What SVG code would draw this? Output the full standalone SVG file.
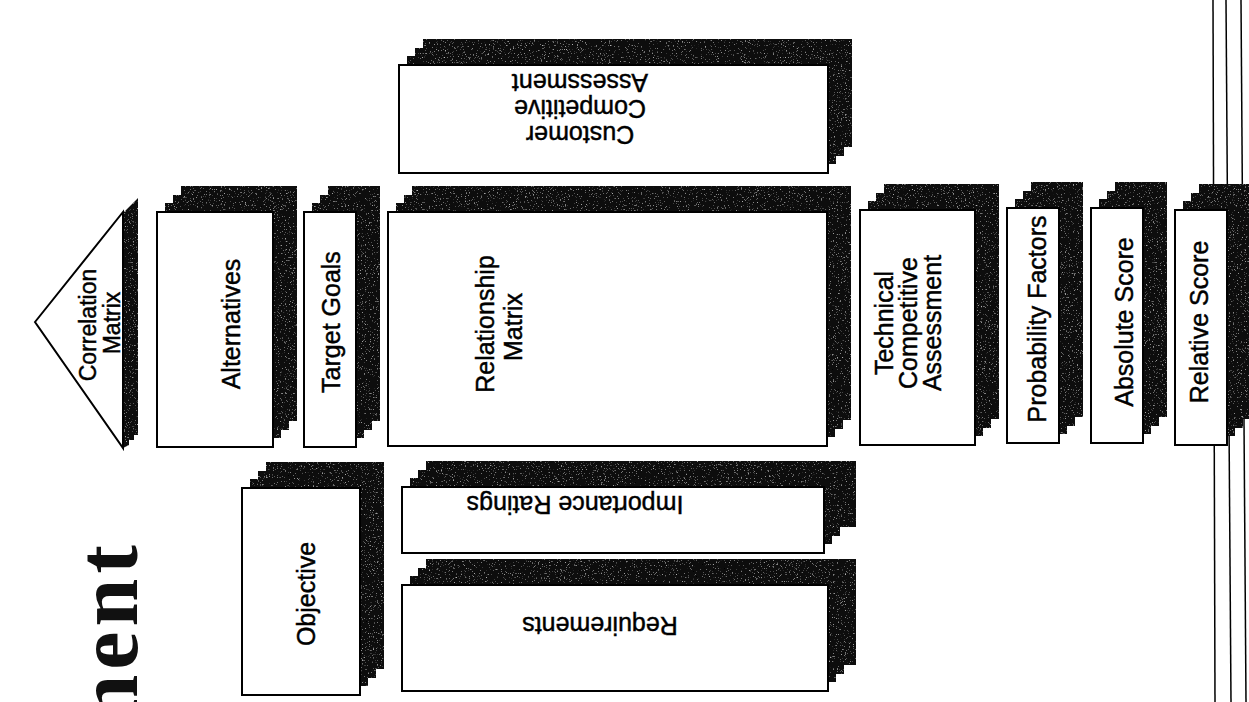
<svg xmlns="http://www.w3.org/2000/svg" width="1249" height="702" viewBox="0 0 1249 702">
<defs>
<style>
.sh{fill:#111111;}
.fr{fill:#ffffff;stroke:#000;stroke-width:2;}
.lbl{font-family:"Liberation Sans",Arial,sans-serif;font-size:25px;fill:#000;stroke:#000;stroke-width:0.45px;text-anchor:middle;}
.sm{font-size:23px;}
.ttl{font-family:"Liberation Serif","Times New Roman",serif;font-size:86px;font-weight:bold;fill:#111;letter-spacing:5px;}
.ln{stroke:#000;stroke-width:1.5;fill:none;}
</style>
<filter id="grain" x="0" y="0" width="1" height="1">
<feTurbulence type="fractalNoise" baseFrequency="0.75" numOctaves="2" seed="7" result="t"/>
<feColorMatrix in="t" type="matrix" values="0 0 0 0 0.6  0 0 0 0 0.6  0 0 0 0 0.6  3.2 0 0 0 -2.05" result="spk"/>
<feComposite in="spk" in2="SourceGraphic" operator="in" result="clip"/>
<feMerge><feMergeNode in="SourceGraphic"/><feMergeNode in="clip"/></feMerge>
</filter>
</defs>
<rect width="1249" height="702" fill="#fff"/>

<g id="frame-lines">
<line class="ln" x1="1213" y1="0" x2="1215" y2="702"/>
<line class="ln" x1="1226" y1="0" x2="1231" y2="702"/>
<line class="ln" x1="1241" y1="0" x2="1246" y2="702"/>
</g>

<g id="title">
<text class="ttl" transform="translate(137,540) rotate(-90)" text-anchor="end">ment</text>
</g>

<g id="correlation-matrix">
<polygon class="sh" filter="url(#grain)" points="123,213 138,198 138,435 134,435 134,440 129,440 129,445 123,448"/>
<polygon points="35,322 123,212 123,448" fill="#fff" stroke="#000" stroke-width="2"/>
<text class="lbl sm" transform="translate(96,325) rotate(-90)">Correlation</text>
<text class="lbl sm" transform="translate(120,323) rotate(-90)">Matrix</text>
</g>

<g id="alternatives">
<g filter="url(#grain)">
<rect class="sh" x="181" y="186" width="116" height="235"/>
<rect class="sh" x="173" y="195" width="116" height="235"/>
<rect class="sh" x="165" y="203" width="116" height="235"/>
</g>
<rect class="fr" x="157" y="212" width="116" height="235"/>
<text class="lbl" transform="translate(240,324) rotate(-90)">Alternatives</text>
</g>

<g id="target-goals">
<g filter="url(#grain)">
<rect class="sh" x="328" y="186" width="52" height="235"/>
<rect class="sh" x="320" y="195" width="52" height="235"/>
<rect class="sh" x="312" y="203" width="52" height="235"/>
</g>
<rect class="fr" x="304" y="212" width="52" height="235"/>
<text class="lbl" transform="translate(340,322) rotate(-90)">Target Goals</text>
</g>

<g id="relationship-matrix">
<g filter="url(#grain)">
<rect class="sh" x="412" y="186" width="439" height="234"/>
<rect class="sh" x="404" y="195" width="439" height="234"/>
<rect class="sh" x="396" y="203" width="439" height="234"/>
</g>
<rect class="fr" x="388" y="212" width="439" height="234"/>
<text class="lbl" transform="translate(494,324) rotate(-90)">Relationship</text>
<text class="lbl" transform="translate(522,327) rotate(-90)">Matrix</text>
</g>

<g id="customer-competitive-assessment">
<g filter="url(#grain)">
<rect class="sh" x="423" y="39" width="429" height="108"/>
<rect class="sh" x="415" y="48" width="429" height="108"/>
<rect class="sh" x="407" y="56" width="429" height="108"/>
</g>
<rect class="fr" x="399" y="65" width="429" height="108"/>
<text class="lbl" transform="translate(580,126) rotate(180)"><tspan x="0" dy="0">Customer</tspan><tspan x="0" dy="26">Competitive</tspan><tspan x="0" dy="26">Assessment</tspan></text>
</g>

<g id="technical-competitive-assessment">
<g filter="url(#grain)">
<rect class="sh" x="884" y="184" width="115" height="235"/>
<rect class="sh" x="876" y="193" width="115" height="235"/>
<rect class="sh" x="868" y="201" width="115" height="235"/>
</g>
<rect class="fr" x="860" y="210" width="115" height="235"/>
<text class="lbl" transform="translate(893,323) rotate(-90)"><tspan x="0" dy="0">Technical</tspan><tspan x="0" dy="24">Competitive</tspan><tspan x="0" dy="24">Assessment</tspan></text>
</g>

<g id="probability-factors">
<g filter="url(#grain)">
<rect class="sh" x="1031" y="182" width="52" height="235"/>
<rect class="sh" x="1023" y="191" width="52" height="235"/>
<rect class="sh" x="1015" y="199" width="52" height="235"/>
</g>
<rect class="fr" x="1007" y="208" width="52" height="235"/>
<text class="lbl" transform="translate(1046,319) rotate(-90)">Probability Factors</text>
</g>

<g id="absolute-score">
<g filter="url(#grain)">
<rect class="sh" x="1115" y="182" width="52" height="235"/>
<rect class="sh" x="1107" y="191" width="52" height="235"/>
<rect class="sh" x="1099" y="199" width="52" height="235"/>
</g>
<rect class="fr" x="1091" y="208" width="52" height="235"/>
<text class="lbl" transform="translate(1133,322) rotate(-90)">Absolute Score</text>
</g>

<g id="relative-score">
<g filter="url(#grain)">
<rect class="sh" x="1199" y="184" width="52" height="235"/>
<rect class="sh" x="1191" y="193" width="52" height="235"/>
<rect class="sh" x="1183" y="201" width="52" height="235"/>
</g>
<rect class="fr" x="1175" y="210" width="52" height="235"/>
<text class="lbl" transform="translate(1208,322) rotate(-90)">Relative Score</text>
</g>

<g id="objective">
<g filter="url(#grain)">
<rect class="sh" x="266" y="462" width="118" height="207"/>
<rect class="sh" x="258" y="471" width="118" height="207"/>
<rect class="sh" x="250" y="479" width="118" height="207"/>
</g>
<rect class="fr" x="242" y="488" width="118" height="207"/>
<text class="lbl" transform="translate(315,594) rotate(-90)">Objective</text>
</g>

<g id="importance-ratings">
<g filter="url(#grain)">
<rect class="sh" x="426" y="461" width="430" height="66"/>
<rect class="sh" x="418" y="470" width="422" height="66"/>
<rect class="sh" x="410" y="478" width="422" height="66"/>
</g>
<rect class="fr" x="402" y="487" width="422" height="66"/>
<text class="lbl" transform="translate(575,496) rotate(180)">Importance Ratings</text>
</g>

<g id="requirements">
<g filter="url(#grain)">
<rect class="sh" x="426" y="559" width="430" height="106"/>
<rect class="sh" x="418" y="568" width="426" height="106"/>
<rect class="sh" x="410" y="576" width="426" height="106"/>
</g>
<rect class="fr" x="402" y="585" width="426" height="106"/>
<text class="lbl" transform="translate(600,617) rotate(180)">Requirements</text>
</g>

<g id="connectors"></g>
</svg>
